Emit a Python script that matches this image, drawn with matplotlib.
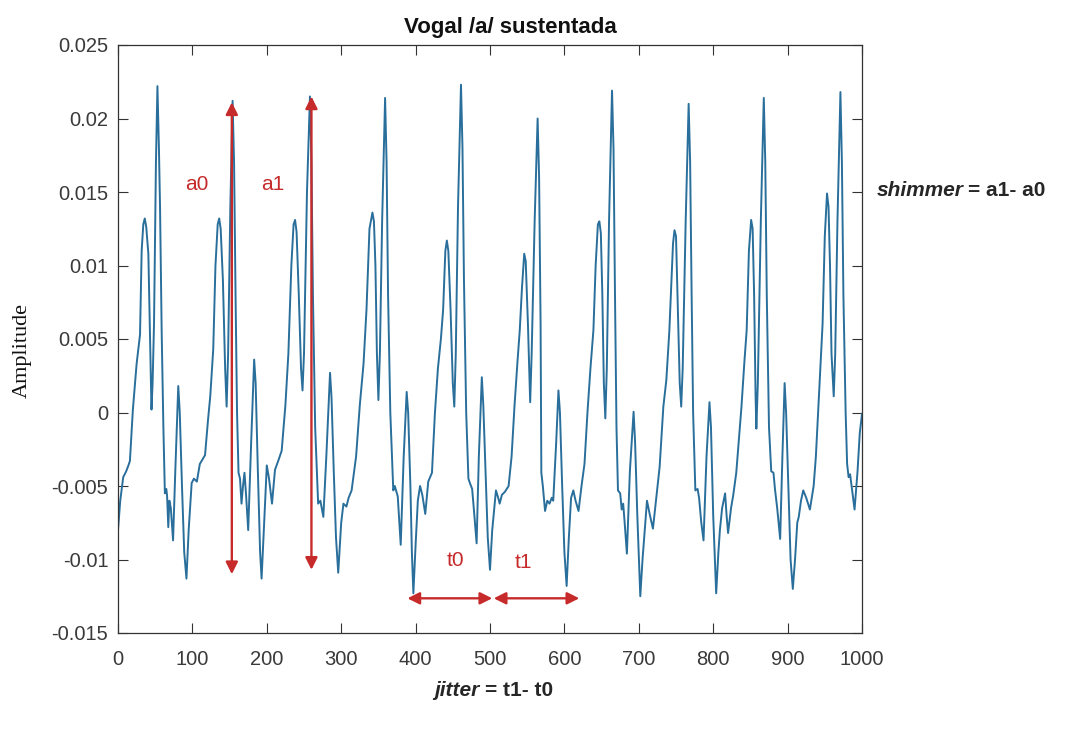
import matplotlib.pyplot as plt

# waveform vertices (sample index, amplitude in units of 1e-3)
sample = [
    0, 3, 7, 11, 14, 16, 20, 25, 29.6, 31.8, 34, 36, 38, 40.8, 44, 45, 46.5, 48.4, 51, 53, 55, 56.5, 58.7, 61, 63, 65, 66, 67.6, 69, 71, 74, 77, 81, 83, 86, 89, 92,
    95, 99, 102, 106, 110, 117, 121, 124, 128, 131, 134, 136, 138, 141, 144, 146, 148, 151, 154, 156, 158, 160, 162, 164, 166, 168, 170, 172, 175, 179, 183, 185, 188, 191, 193,
    196, 200, 203, 207, 211, 216, 220, 225, 229, 233, 236, 238, 240, 243, 246, 248, 250, 254, 258, 260, 262, 265, 269, 272, 276, 280, 285, 287, 290, 293, 296,
    300, 303, 307, 310, 314, 320, 325, 330, 334, 338, 342, 344, 346, 348, 350, 352, 355, 359, 361, 363, 366, 370, 372, 376, 380, 384, 388, 390, 393, 395, 397,
    400, 403, 406, 409, 413, 417, 422, 426, 430, 434, 437, 440, 442, 444, 447, 450, 452, 454, 457, 461, 463, 465, 468, 471, 473, 476, 479, 482, 485, 489, 491, 494, 497, 500,
    503, 508, 511, 513, 516, 520, 525, 529, 533, 537, 540, 543, 546, 548, 551, 554, 556, 560, 564, 566, 568, 569, 571, 574, 577, 580, 583, 585, 589, 592, 594, 597, 600, 603,
    606, 609, 612, 615, 619, 623, 627, 631, 635, 639, 642, 645, 647, 649, 651, 653, 655, 657, 660, 664, 666, 668, 670, 672, 675, 677, 679, 681, 684, 688, 693, 695, 698, 702,
    705, 708, 711, 715, 719, 722, 728, 733, 737, 741, 744, 746, 748, 750, 752, 755, 757, 759, 763, 767, 769, 771, 773, 776, 779, 781, 784, 787, 791, 795, 797, 800, 804,
    807, 809, 812, 816, 818, 820, 824, 827, 831, 835, 838, 842, 845, 848, 851, 853, 855, 857, 858, 860, 864, 868, 870, 872, 875, 878, 881, 883, 886, 890, 893, 896, 898, 901, 904, 907,
    910, 913, 915, 918, 921, 925, 930, 935, 938, 941, 944, 947, 950, 953, 955, 957, 959, 962, 964, 967, 971, 973, 975, 978, 980, 982, 984, 986, 990, 994, 997, 1000,
]
amp_milli = [
    -8.0, -6.0, -4.4, -4.0, -3.6, -3.3, 0.2, 3.3, 5.3, 11.0, 12.8, 13.2, 12.6, 10.8, 3.0, 0.2, 2.0, 6.0, 17, 22.2, 18, 14, 5.5, -1, -5.5, -5.2, -5.7, -7.8, -6.0, -6.5, -8.7, -4, 1.8, 0, -5, -9.5, -11.3,
    -8, -4.8, -4.5, -4.7, -3.5, -2.9, -0.5, 1.1, 4.3, 10, 12.8, 13.2, 12.5, 9, 3, 0.4, 4, 14, 21.2, 17, 8, 0, -4.1, -4.5, -6.2, -5.0, -4.1, -5.5, -8.0, -2, 3.6, 2, -4, -9.5, -11.3,
    -8, -3.6, -4.5, -6.2, -3.9, -3.2, -2.6, 0.5, 4, 10, 12.8, 13.1, 12.3, 8, 3, 1.5, 4, 15, 21.5, 17, 8, -1, -6.2, -6.0, -7.1, -3, 2.7, 1, -4, -8.5, -10.9,
    -7.5, -6.2, -6.4, -5.8, -5.3, -3.0, 0.5, 3.3, 7, 12.5, 13.6, 13, 10, 4, 0.85, 4, 13, 21.4, 17, 8, 0, -5.3, -5.0, -5.7, -9.0, -3, 1.4, 0, -5, -9.5, -12.3,
    -9, -6, -5.0, -5.6, -6.9, -4.7, -4.1, 0, 3, 5, 7, 11, 11.7, 11, 7, 2, 0.4, 4, 14, 22.3, 18, 9, 0, -4.5, -4.8, -5.2, -7, -8.9, -3, 2.4, 0.5, -4, -8.5, -10.7,
    -8, -5.3, -5.8, -6.2, -5.6, -5.4, -5.0, -3.0, 0.5, 3.5, 5.6, 8.5, 10.8, 10.3, 6, 0.7, 4, 13, 20.0, 16, 6, -4.1, -5, -6.7, -6.0, -6.2, -5.8, -6.0, -2, 1.5, 0, -5, -9.5, -11.8,
    -8.5, -5.8, -5.3, -6.0, -6.7, -5.0, -3.5, 0, 3, 5.6, 10, 12.8, 13.0, 12.2, 8, 2, -0.4, 3, 13, 21.9, 18, 8, -1, -5.3, -5.5, -6.6, -6.2, -7.5, -9.6, -4, 0.05, -2, -7, -12.5,
    -10, -8.0, -6.0, -7.0, -7.9, -6.5, -3.7, 0.4, 2.2, 5.5, 9, 11.5, 12.4, 12, 8, 2, 0.4, 3, 13, 21.0, 17, 8, 0, -5.3, -5.2, -5.8, -7.5, -8.7, -3, 0.7, -1, -7, -12.3,
    -9.5, -8.0, -6.5, -5.5, -7, -8.2, -6.5, -5.6, -4.1, -1.5, 0.4, 3.5, 5.6, 11, 13.1, 12.5, 8, 1, -1.1, 2, 13, 21.4, 17, 8, -1, -4, -4.1, -5.2, -6.5, -8.6, -3, 2.0, 0, -5, -10, -12.0,
    -10, -7.5, -7.1, -6, -5.3, -5.8, -6.6, -5.0, -3, 0, 2.9, 6, 12, 14.9, 14, 10, 4, 1.1, 4, 13, 21.8, 17, 8, 0, -3.5, -4.4, -4.2, -5, -6.6, -4, -1.4, -0.1,
]
amplitude = [v / 1000 for v in amp_milli]

x_ticks = [0, 100, 200, 300, 400, 500, 600, 700, 800, 900, 1000]
y_ticks = [-0.015, -0.01, -0.005, 0, 0.005, 0.01, 0.015, 0.02, 0.025]
y_tick_labels = ['-0.015', '-0.01', '-0.005', '0', '0.005', '0.01', '0.015', '0.02', '0.025']

red = '#c62a2a'
dark = '#262626'
font = 'Liberation Sans'
W, H = 1078, 729

fig = plt.figure(figsize=(10.78, 7.29), dpi=100)
ax = fig.add_axes([118 / W, 1 - 633 / H, 744 / W, 588 / H])

ax.plot(sample, amplitude, color='#2a6f9b', linewidth=1.4)

ax.set_xlim(0, 1000)
ax.set_ylim(-0.015, 0.025)
ax.set_xticks(x_ticks)
ax.set_xticklabels([str(t) for t in x_ticks], fontfamily=font, fontsize=14.5, color='#3a3a3a')
ax.set_yticks(y_ticks)
ax.set_yticklabels(y_tick_labels, fontfamily=font, fontsize=14.5, color='#3a3a3a')
ax.tick_params(direction='in', length=7, width=0.8, top=True, right=True, color='#333333')
ax.tick_params(axis='x', pad=12)
ax.tick_params(axis='y', pad=7)
for side in ax.spines.values():
    side.set_color('#333333')
    side.set_linewidth(0.9)

fig.text(510 / W, 1 - 27 / H, 'Vogal /a/ sustentada', fontfamily=font, fontweight='bold',
         fontsize=16, ha='center', va='center', color='#111111')
fig.text(22 / W, 1 - 350 / H, 'Amplitude', fontfamily='Liberation Serif', fontsize=16,
         rotation=90, ha='center', va='center', color='#111111')

# shimmer arrows (a0, a1)
arrow = dict(arrowstyle='<|-|>', color=red, linewidth=1.7, mutation_scale=18, shrinkA=0, shrinkB=0)
ax.annotate('', xy=(153, 0.0211), xytext=(153, -0.0110), arrowprops=arrow)
ax.annotate('', xy=(260, 0.0215), xytext=(260, -0.0107), arrowprops=arrow)
ax.text(106, 0.0155, 'a0', color=red, fontfamily=font, fontsize=15, ha='center', va='center')
ax.text(208, 0.0155, 'a1', color=red, fontfamily=font, fontsize=15, ha='center', va='center')

# jitter arrows (t0, t1)
ax.annotate('', xy=(389, -0.01264), xytext=(503, -0.01264), arrowprops=arrow)
ax.annotate('', xy=(505, -0.01264), xytext=(620, -0.01264), arrowprops=arrow)
ax.text(453, -0.0101, 't0', color=red, fontfamily=font, fontsize=15, ha='center', va='center')
ax.text(545, -0.0102, 't1', color=red, fontfamily=font, fontsize=15, ha='center', va='center')

# formulas outside the axes
fig.text(964 / W, 1 - 190 / H, 'shimmer', fontfamily=font, fontstyle='italic', fontweight='bold',
         fontsize=15, ha='right', va='center', color=dark)
fig.text(968 / W, 1 - 190 / H, '= a1- a0', fontfamily=font, fontweight='bold', fontsize=15,
         ha='left', va='center', color=dark)
fig.text(480 / W, 1 - 690 / H, 'jitter', fontfamily=font, fontstyle='italic', fontweight='bold',
         fontsize=15, ha='right', va='center', color=dark)
fig.text(485 / W, 1 - 690 / H, '= t1- t0', fontfamily=font, fontweight='bold', fontsize=15,
         ha='left', va='center', color=dark)

fig.savefig('out.png', dpi=100, facecolor='white')
